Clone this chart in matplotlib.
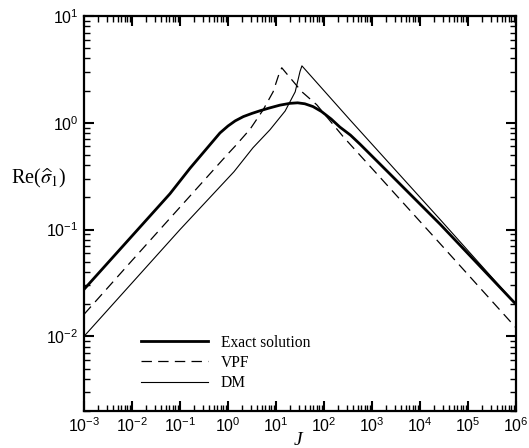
import numpy as np
import matplotlib
matplotlib.use("Agg")
import matplotlib.pyplot as plt
from matplotlib.ticker import LogLocator, NullFormatter

plt.rcParams['font.family'] = ['Liberation Sans', 'DejaVu Sans']
plt.rcParams['mathtext.fontset'] = 'custom'
plt.rcParams['mathtext.rm'] = 'Liberation Sans'
plt.rcParams['mathtext.it'] = 'Liberation Sans:italic'
plt.rcParams['lines.scale_dashes'] = False
plt.rcParams['axes.unicode_minus'] = False

# log10(J) and log10(Re(sigma_1))
exact_logJ = [-3.0, -2.0, -1.21, -0.79, -0.375, -0.167, 0.0, 0.15, 0.32, 0.5, 0.67, 0.85, 1.08, 1.29, 1.45, 1.6, 1.77, 1.95, 2.15, 2.33, 2.55, 2.75, 3.375, 4.42, 5.2, 6.0]
exact_logR = [-1.56, -1.06, -0.665, -0.425, -0.205, -0.095, -0.03, 0.018, 0.058, 0.088, 0.113, 0.137, 0.165, 0.182, 0.187, 0.178, 0.152, 0.105, 0.035, -0.04, -0.115, -0.2, -0.48, -0.95, -1.32, -1.70]

vpf_logJ = [-3.0, -2.0, -1.0, -0.02, 0.146, 0.46, 0.73, 0.94, 1.05, 1.12, 1.19, 1.54, 1.85, 2.4, 4.375, 6.0]
vpf_logR = [-1.794, -1.29, -0.79, -0.30, -0.22, -0.06, 0.12, 0.29, 0.44, 0.515, 0.477, 0.29, 0.168, -0.13, -1.11, -1.92]

dm_logJ = [-3.0, -2.0, -1.0, 0.125, 0.52, 0.875, 1.19, 1.40, 1.5, 1.54, 2.54, 4.42, 6.0]
dm_logR = [-2.0, -1.5, -1.0, -0.458, -0.234, -0.065, 0.11, 0.29, 0.48, 0.533, 0.028, -0.906, -1.70]

labels = ['Exact solution', 'VPF', 'DM']

W, H = 529, 448
fig = plt.figure(figsize=(W/100, H/100), dpi=100)
ax = fig.add_axes([84/W, 1-411/H, (516-84)/W, (411-16)/H])

ax.plot(10**np.array(exact_logJ), 10**np.array(exact_logR), color='black', lw=2.0, label=labels[0])
ax.plot(10**np.array(vpf_logJ), 10**np.array(vpf_logR), color='black', lw=0.9, dashes=(7.5, 4.5), label=labels[1])
ax.plot(10**np.array(dm_logJ), 10**np.array(dm_logR), color='black', lw=0.8, label=labels[2])

ax.set_xscale('log')
ax.set_yscale('log')
ax.set_xlim(1e-3, 1e6)
ax.set_ylim(2e-3, 1e1)
ax.xaxis.set_major_locator(LogLocator(base=10, numticks=20))
ax.xaxis.set_minor_locator(LogLocator(base=10, subs=np.arange(2, 10), numticks=100))
ax.yaxis.set_major_locator(LogLocator(base=10, numticks=20))
ax.yaxis.set_minor_locator(LogLocator(base=10, subs=np.arange(2, 10), numticks=100))
ax.xaxis.set_minor_formatter(NullFormatter())
ax.yaxis.set_minor_formatter(NullFormatter())

for s in ax.spines.values():
    s.set_linewidth(1.6)
ax.tick_params(which='both', direction='in', top=True, right=True, labelsize=11.5, colors='black')
ax.tick_params(which='major', length=7, width=1.5, pad=4)
ax.tick_params(which='minor', length=4, width=1.0)

leg = ax.legend(loc='lower left', bbox_to_anchor=(0.1, 0.015), frameon=False,
                prop={'family': 'Liberation Serif', 'size': 11.2}, handlelength=4.3,
                handletextpad=0.8, labelspacing=0.27)

fig.text(39/W, 1-178/H, r'Re($\widehat{\sigma}_{1}$)', ha='center', va='center',
         fontsize=14.5, family='Liberation Serif', math_fontfamily='stix')
fig.text(298/W, 1-432/H, 'J', ha='center', va='top', fontsize=14, style='italic',
         family='Liberation Serif')

fig.savefig('out.png', dpi=100)
